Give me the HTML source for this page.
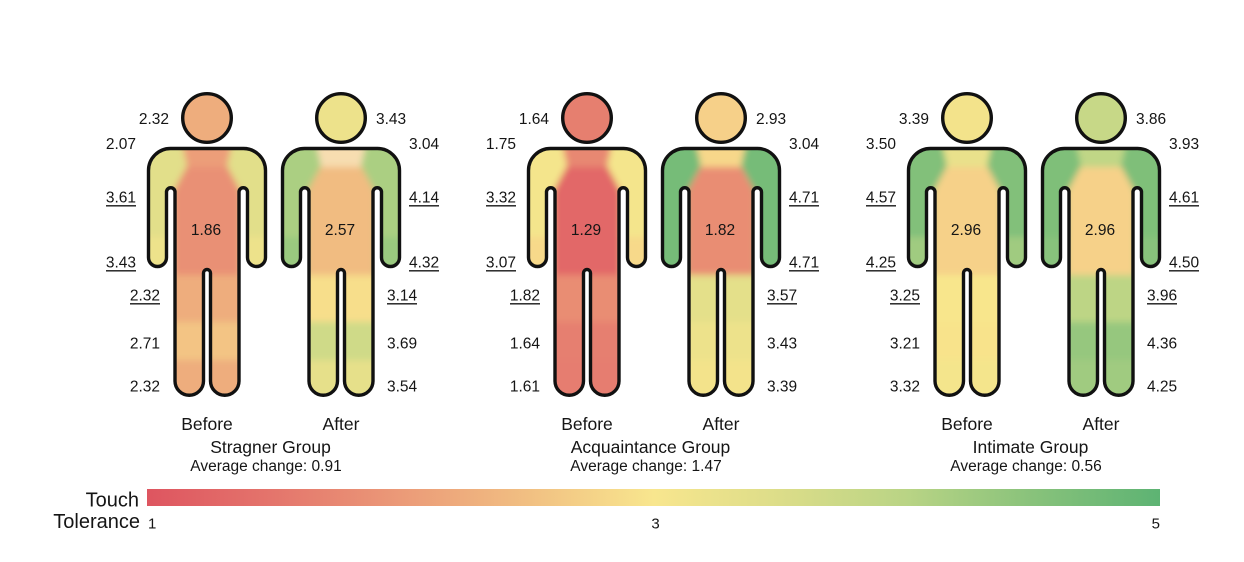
<!DOCTYPE html>
<html><head><meta charset="utf-8">
<style>
html,body{margin:0;padding:0;background:#fff;}
svg{display:block;}
text{font-family:"Liberation Sans",Arial,sans-serif;fill:#151515;}
.n{font-size:15.5px;}
.b{font-size:17.5px;}
.a{font-size:15.5px;}
.t{font-size:20px;}
.k{font-size:15px;}
</style></head>
<body>
<svg width="1244" height="562" viewBox="0 0 1244 562" xmlns="http://www.w3.org/2000/svg">
<defs>
<clipPath id="cp" clipPathUnits="userSpaceOnUse">
<path d="M -36.5 148.5 L 36.5 148.5 A 22 22 0 0 1 58.5 170.5 L 58.5 257.5 A 9 9 0 0 1 40.5 257.5 L 40.5 192 A 4.25 4.25 0 0 0 32 192 L 32 381 A 14.25 14.25 0 0 1 3.5 381 L 3.5 273 A 3.5 3.5 0 0 0 -3.5 273 L -3.5 381 A 14.25 14.25 0 0 1 -32 381 L -32 192 A 4.25 4.25 0 0 0 -40.5 192 L -40.5 257.5 A 9 9 0 0 1 -58.5 257.5 L -58.5 170.5 A 22 22 0 0 1 -36.5 148.5 Z"/>
</clipPath>
<filter id="bl" filterUnits="userSpaceOnUse" x="-100" y="100" width="200" height="340"><feGaussianBlur stdDeviation="3.5"/></filter>
<linearGradient id="cb" x1="0" x2="1" y1="0" y2="0">
<stop offset="0" stop-color="#de5560"/>
<stop offset="0.125" stop-color="#e4756c"/>
<stop offset="0.25" stop-color="#eb9a78"/>
<stop offset="0.375" stop-color="#f1bf82"/>
<stop offset="0.5" stop-color="#f8e68e"/>
<stop offset="0.625" stop-color="#dcdd89"/>
<stop offset="0.75" stop-color="#b9d485"/>
<stop offset="0.875" stop-color="#88c27b"/>
<stop offset="1" stop-color="#5db373"/>
</linearGradient>
</defs>

<!-- Figure 1 Before -->
<g transform="translate(207,0)">
<g clip-path="url(#cp)"><g filter="url(#bl)">
<rect x="-75" y="135" width="150" height="150" fill="#e99075"/>
<rect x="-75" y="185" width="41" height="52" fill="#e2df8a"/><rect x="34" y="185" width="41" height="52" fill="#e2df8a"/>
<rect x="-75" y="237" width="41" height="50" fill="#ede28b"/><rect x="34" y="237" width="41" height="50" fill="#ede28b"/>
<rect x="-30" y="135" width="60" height="32" fill="#ec9e79"/>
<polygon points="-75,135 -27,135 -20,166 -34,192 -75,192" fill="#e2df8a"/><polygon points="75,135 27,135 20,166 34,192 75,192" fill="#e2df8a"/>
<rect x="-40" y="275" width="80" height="47" fill="#eead7d"/>
<rect x="-40" y="322" width="80" height="38" fill="#f3c484"/>
<rect x="-40" y="360" width="80" height="50" fill="#eead7d"/>
</g></g>
<path d="M -36.5 148.5 L 36.5 148.5 A 22 22 0 0 1 58.5 170.5 L 58.5 257.5 A 9 9 0 0 1 40.5 257.5 L 40.5 192 A 4.25 4.25 0 0 0 32 192 L 32 381 A 14.25 14.25 0 0 1 3.5 381 L 3.5 273 A 3.5 3.5 0 0 0 -3.5 273 L -3.5 381 A 14.25 14.25 0 0 1 -32 381 L -32 192 A 4.25 4.25 0 0 0 -40.5 192 L -40.5 257.5 A 9 9 0 0 1 -58.5 257.5 L -58.5 170.5 A 22 22 0 0 1 -36.5 148.5 Z" fill="none" stroke="#111" stroke-width="3.4" stroke-linejoin="round"/>
<circle cx="0" cy="118" r="24.3" fill="#eead7d" stroke="#111" stroke-width="3.4"/>
</g>

<!-- Figure 1 After -->
<g transform="translate(341,0)">
<g clip-path="url(#cp)"><g filter="url(#bl)">
<rect x="-75" y="135" width="150" height="150" fill="#f1bc81"/>
<rect x="-75" y="185" width="41" height="52" fill="#abcf82"/><rect x="34" y="185" width="41" height="52" fill="#abcf82"/>
<rect x="-75" y="237" width="41" height="50" fill="#9ac97f"/><rect x="34" y="237" width="41" height="50" fill="#9ac97f"/>
<rect x="-30" y="135" width="60" height="32" fill="#f7ddb0"/>
<polygon points="-75,135 -27,135 -20,166 -34,192 -75,192" fill="#abcf82"/><polygon points="75,135 27,135 20,166 34,192 75,192" fill="#abcf82"/>
<rect x="-40" y="275" width="80" height="47" fill="#f7de8b"/>
<rect x="-40" y="322" width="80" height="38" fill="#cfda88"/>
<rect x="-40" y="360" width="80" height="50" fill="#e6e08a"/>
</g></g>
<path d="M -36.5 148.5 L 36.5 148.5 A 22 22 0 0 1 58.5 170.5 L 58.5 257.5 A 9 9 0 0 1 40.5 257.5 L 40.5 192 A 4.25 4.25 0 0 0 32 192 L 32 381 A 14.25 14.25 0 0 1 3.5 381 L 3.5 273 A 3.5 3.5 0 0 0 -3.5 273 L -3.5 381 A 14.25 14.25 0 0 1 -32 381 L -32 192 A 4.25 4.25 0 0 0 -40.5 192 L -40.5 257.5 A 9 9 0 0 1 -58.5 257.5 L -58.5 170.5 A 22 22 0 0 1 -36.5 148.5 Z" fill="none" stroke="#111" stroke-width="3.4" stroke-linejoin="round"/>
<circle cx="0" cy="118" r="24.3" fill="#ede28b" stroke="#111" stroke-width="3.4"/>
</g>

<!-- Figure 2 Before -->
<g transform="translate(587,0)">
<g clip-path="url(#cp)"><g filter="url(#bl)">
<rect x="-75" y="135" width="150" height="150" fill="#e26767"/>
<rect x="-75" y="185" width="41" height="52" fill="#f4e58c"/><rect x="34" y="185" width="41" height="52" fill="#f4e58c"/>
<rect x="-75" y="237" width="41" height="50" fill="#f7d98a"/><rect x="34" y="237" width="41" height="50" fill="#f7d98a"/>
<rect x="-30" y="135" width="60" height="32" fill="#e88872"/>
<polygon points="-75,135 -27,135 -20,166 -34,192 -75,192" fill="#f4e58c"/><polygon points="75,135 27,135 20,166 34,192 75,192" fill="#f4e58c"/>
<rect x="-40" y="275" width="80" height="47" fill="#e98d73"/>
<rect x="-40" y="322" width="80" height="38" fill="#e67f6f"/>
<rect x="-40" y="360" width="80" height="50" fill="#e67d6f"/>
</g></g>
<path d="M -36.5 148.5 L 36.5 148.5 A 22 22 0 0 1 58.5 170.5 L 58.5 257.5 A 9 9 0 0 1 40.5 257.5 L 40.5 192 A 4.25 4.25 0 0 0 32 192 L 32 381 A 14.25 14.25 0 0 1 3.5 381 L 3.5 273 A 3.5 3.5 0 0 0 -3.5 273 L -3.5 381 A 14.25 14.25 0 0 1 -32 381 L -32 192 A 4.25 4.25 0 0 0 -40.5 192 L -40.5 257.5 A 9 9 0 0 1 -58.5 257.5 L -58.5 170.5 A 22 22 0 0 1 -36.5 148.5 Z" fill="none" stroke="#111" stroke-width="3.4" stroke-linejoin="round"/>
<circle cx="0" cy="118" r="24.3" fill="#e67f6f" stroke="#111" stroke-width="3.4"/>
</g>

<!-- Figure 2 After -->
<g transform="translate(721,0)">
<g clip-path="url(#cp)"><g filter="url(#bl)">
<rect x="-75" y="135" width="150" height="150" fill="#e98d73"/>
<rect x="-75" y="185" width="41" height="52" fill="#76bc78"/><rect x="34" y="185" width="41" height="52" fill="#76bc78"/>
<rect x="-75" y="237" width="41" height="50" fill="#76bc78"/><rect x="34" y="237" width="41" height="50" fill="#76bc78"/>
<rect x="-30" y="135" width="60" height="32" fill="#f7d78a"/>
<polygon points="-75,135 -27,135 -20,166 -34,192 -75,192" fill="#76bc78"/><polygon points="75,135 27,135 20,166 34,192 75,192" fill="#76bc78"/>
<rect x="-40" y="275" width="80" height="47" fill="#e4e08a"/>
<rect x="-40" y="322" width="80" height="38" fill="#ede28b"/>
<rect x="-40" y="360" width="80" height="50" fill="#f3e38b"/>
</g></g>
<path d="M -36.5 148.5 L 36.5 148.5 A 22 22 0 0 1 58.5 170.5 L 58.5 257.5 A 9 9 0 0 1 40.5 257.5 L 40.5 192 A 4.25 4.25 0 0 0 32 192 L 32 381 A 14.25 14.25 0 0 1 3.5 381 L 3.5 273 A 3.5 3.5 0 0 0 -3.5 273 L -3.5 381 A 14.25 14.25 0 0 1 -32 381 L -32 192 A 4.25 4.25 0 0 0 -40.5 192 L -40.5 257.5 A 9 9 0 0 1 -58.5 257.5 L -58.5 170.5 A 22 22 0 0 1 -36.5 148.5 Z" fill="none" stroke="#111" stroke-width="3.4" stroke-linejoin="round"/>
<circle cx="0" cy="118" r="24.3" fill="#f6d089" stroke="#111" stroke-width="3.4"/>
</g>

<!-- Figure 3 Before -->
<g transform="translate(967,0)">
<g clip-path="url(#cp)"><g filter="url(#bl)">
<rect x="-75" y="135" width="150" height="150" fill="#f6d189"/>
<rect x="-75" y="185" width="41" height="52" fill="#82c07a"/><rect x="34" y="185" width="41" height="52" fill="#82c07a"/>
<rect x="-75" y="237" width="41" height="50" fill="#a0cb80"/><rect x="34" y="237" width="41" height="50" fill="#a0cb80"/>
<rect x="-30" y="135" width="60" height="32" fill="#e9e18b"/>
<polygon points="-75,135 -27,135 -20,166 -34,192 -75,192" fill="#82c07a"/><polygon points="75,135 27,135 20,166 34,192 75,192" fill="#82c07a"/>
<rect x="-40" y="275" width="80" height="47" fill="#f8e68c"/>
<rect x="-40" y="322" width="80" height="38" fill="#f8e38b"/>
<rect x="-40" y="360" width="80" height="50" fill="#f4e58c"/>
</g></g>
<path d="M -36.5 148.5 L 36.5 148.5 A 22 22 0 0 1 58.5 170.5 L 58.5 257.5 A 9 9 0 0 1 40.5 257.5 L 40.5 192 A 4.25 4.25 0 0 0 32 192 L 32 381 A 14.25 14.25 0 0 1 3.5 381 L 3.5 273 A 3.5 3.5 0 0 0 -3.5 273 L -3.5 381 A 14.25 14.25 0 0 1 -32 381 L -32 192 A 4.25 4.25 0 0 0 -40.5 192 L -40.5 257.5 A 9 9 0 0 1 -58.5 257.5 L -58.5 170.5 A 22 22 0 0 1 -36.5 148.5 Z" fill="none" stroke="#111" stroke-width="3.4" stroke-linejoin="round"/>
<circle cx="0" cy="118" r="24.3" fill="#f3e38b" stroke="#111" stroke-width="3.4"/>
</g>

<!-- Figure 3 After -->
<g transform="translate(1101,0)">
<g clip-path="url(#cp)"><g filter="url(#bl)">
<rect x="-75" y="135" width="150" height="150" fill="#f6d189"/>
<rect x="-75" y="185" width="41" height="52" fill="#7fbf79"/><rect x="34" y="185" width="41" height="52" fill="#7fbf79"/>
<rect x="-75" y="237" width="41" height="50" fill="#88c27b"/><rect x="34" y="237" width="41" height="50" fill="#88c27b"/>
<rect x="-30" y="135" width="60" height="32" fill="#c0d686"/>
<polygon points="-75,135 -27,135 -20,166 -34,192 -75,192" fill="#7fbf79"/><polygon points="75,135 27,135 20,166 34,192 75,192" fill="#7fbf79"/>
<rect x="-40" y="275" width="80" height="47" fill="#bdd585"/>
<rect x="-40" y="322" width="80" height="38" fill="#96c77e"/>
<rect x="-40" y="360" width="80" height="50" fill="#a0cb80"/>
</g></g>
<path d="M -36.5 148.5 L 36.5 148.5 A 22 22 0 0 1 58.5 170.5 L 58.5 257.5 A 9 9 0 0 1 40.5 257.5 L 40.5 192 A 4.25 4.25 0 0 0 32 192 L 32 381 A 14.25 14.25 0 0 1 3.5 381 L 3.5 273 A 3.5 3.5 0 0 0 -3.5 273 L -3.5 381 A 14.25 14.25 0 0 1 -32 381 L -32 192 A 4.25 4.25 0 0 0 -40.5 192 L -40.5 257.5 A 9 9 0 0 1 -58.5 257.5 L -58.5 170.5 A 22 22 0 0 1 -36.5 148.5 Z" fill="none" stroke="#111" stroke-width="3.4" stroke-linejoin="round"/>
<circle cx="0" cy="118" r="24.3" fill="#c7d887" stroke="#111" stroke-width="3.4"/>
</g>

<!-- Labels: Figure 1 Before -->
<g class="n" text-anchor="end">
<text class="n" x="169" y="124">2.32</text>
<text class="n" x="136" y="149">2.07</text>
<text class="n" x="136" y="202.5">3.61</text>
<text class="n" x="136" y="267.5">3.43</text>
<text class="n" x="160" y="300.5">2.32</text>
<text class="n" x="160" y="348.5">2.71</text>
<text class="n" x="160" y="391.5">2.32</text>
<text class="n" x="549" y="124">1.64</text>
<text class="n" x="516" y="149">1.75</text>
<text class="n" x="516" y="202.5">3.32</text>
<text class="n" x="516" y="267.5">3.07</text>
<text class="n" x="540" y="300.5">1.82</text>
<text class="n" x="540" y="348.5">1.64</text>
<text class="n" x="540" y="391.5">1.61</text>
<text class="n" x="929" y="124">3.39</text>
<text class="n" x="896" y="149">3.50</text>
<text class="n" x="896" y="202.5">4.57</text>
<text class="n" x="896" y="267.5">4.25</text>
<text class="n" x="920" y="300.5">3.25</text>
<text class="n" x="920" y="348.5">3.21</text>
<text class="n" x="920" y="391.5">3.32</text>
</g>
<g text-anchor="start">
<text class="n" x="376" y="124">3.43</text>
<text class="n" x="409" y="149">3.04</text>
<text class="n" x="409" y="202.5">4.14</text>
<text class="n" x="409" y="267.5">4.32</text>
<text class="n" x="387" y="300.5">3.14</text>
<text class="n" x="387" y="348.5">3.69</text>
<text class="n" x="387" y="391.5">3.54</text>
<text class="n" x="756" y="124">2.93</text>
<text class="n" x="789" y="149">3.04</text>
<text class="n" x="789" y="202.5">4.71</text>
<text class="n" x="789" y="267.5">4.71</text>
<text class="n" x="767" y="300.5">3.57</text>
<text class="n" x="767" y="348.5">3.43</text>
<text class="n" x="767" y="391.5">3.39</text>
<text class="n" x="1136" y="124">3.86</text>
<text class="n" x="1169" y="149">3.93</text>
<text class="n" x="1169" y="202.5">4.61</text>
<text class="n" x="1169" y="267.5">4.50</text>
<text class="n" x="1147" y="300.5">3.96</text>
<text class="n" x="1147" y="348.5">4.36</text>
<text class="n" x="1147" y="391.5">4.25</text>
</g>
<g text-anchor="middle">
<text class="n" x="206" y="235">1.86</text>
<text class="n" x="340" y="235">2.57</text>
<text class="n" x="586" y="235">1.29</text>
<text class="n" x="720" y="235">1.82</text>
<text class="n" x="966" y="235">2.96</text>
<text class="n" x="1100" y="235">2.96</text>
</g>
<!-- underlines -->
<g stroke="#151515" stroke-width="1.3">
<line x1="106" y1="205.8" x2="136" y2="205.8"/>
<line x1="106" y1="270.8" x2="136" y2="270.8"/>
<line x1="130" y1="303.8" x2="160" y2="303.8"/>
<line x1="409" y1="205.8" x2="439" y2="205.8"/>
<line x1="409" y1="270.8" x2="439" y2="270.8"/>
<line x1="387" y1="303.8" x2="417" y2="303.8"/>
<line x1="486" y1="205.8" x2="516" y2="205.8"/>
<line x1="486" y1="270.8" x2="516" y2="270.8"/>
<line x1="510" y1="303.8" x2="540" y2="303.8"/>
<line x1="789" y1="205.8" x2="819" y2="205.8"/>
<line x1="789" y1="270.8" x2="819" y2="270.8"/>
<line x1="767" y1="303.8" x2="797" y2="303.8"/>
<line x1="866" y1="205.8" x2="896" y2="205.8"/>
<line x1="866" y1="270.8" x2="896" y2="270.8"/>
<line x1="890" y1="303.8" x2="920" y2="303.8"/>
<line x1="1169" y1="205.8" x2="1199" y2="205.8"/>
<line x1="1169" y1="270.8" x2="1199" y2="270.8"/>
<line x1="1147" y1="303.8" x2="1177" y2="303.8"/>
</g>

<!-- Bottom captions -->
<g text-anchor="middle">
<text class="b" x="207" y="430">Before</text>
<text class="b" x="341" y="430">After</text>
<text class="b" x="587" y="430">Before</text>
<text class="b" x="721" y="430">After</text>
<text class="b" x="967" y="430">Before</text>
<text class="b" x="1101" y="430">After</text>
<text class="b" x="270.5" y="453">Stragner Group</text>
<text class="b" x="650.5" y="453">Acquaintance Group</text>
<text class="b" x="1030.5" y="453">Intimate Group</text>
<text class="a" x="266" y="471">Average change: 0.91</text>
<text class="a" x="646" y="471">Average change: 1.47</text>
<text class="a" x="1026" y="471">Average change: 0.56</text>
</g>

<!-- Colorbar -->
<rect x="147" y="489" width="1013" height="17" fill="url(#cb)"/>
<text class="t" x="139" y="506.5" text-anchor="end">Touch</text>
<text class="t" x="140" y="528" text-anchor="end">Tolerance</text>
<text class="k" x="148" y="528.5">1</text>
<text class="k" x="655.5" y="528.5" text-anchor="middle">3</text>
<text class="k" x="1160" y="528.5" text-anchor="end">5</text>
</svg>
</body></html>
